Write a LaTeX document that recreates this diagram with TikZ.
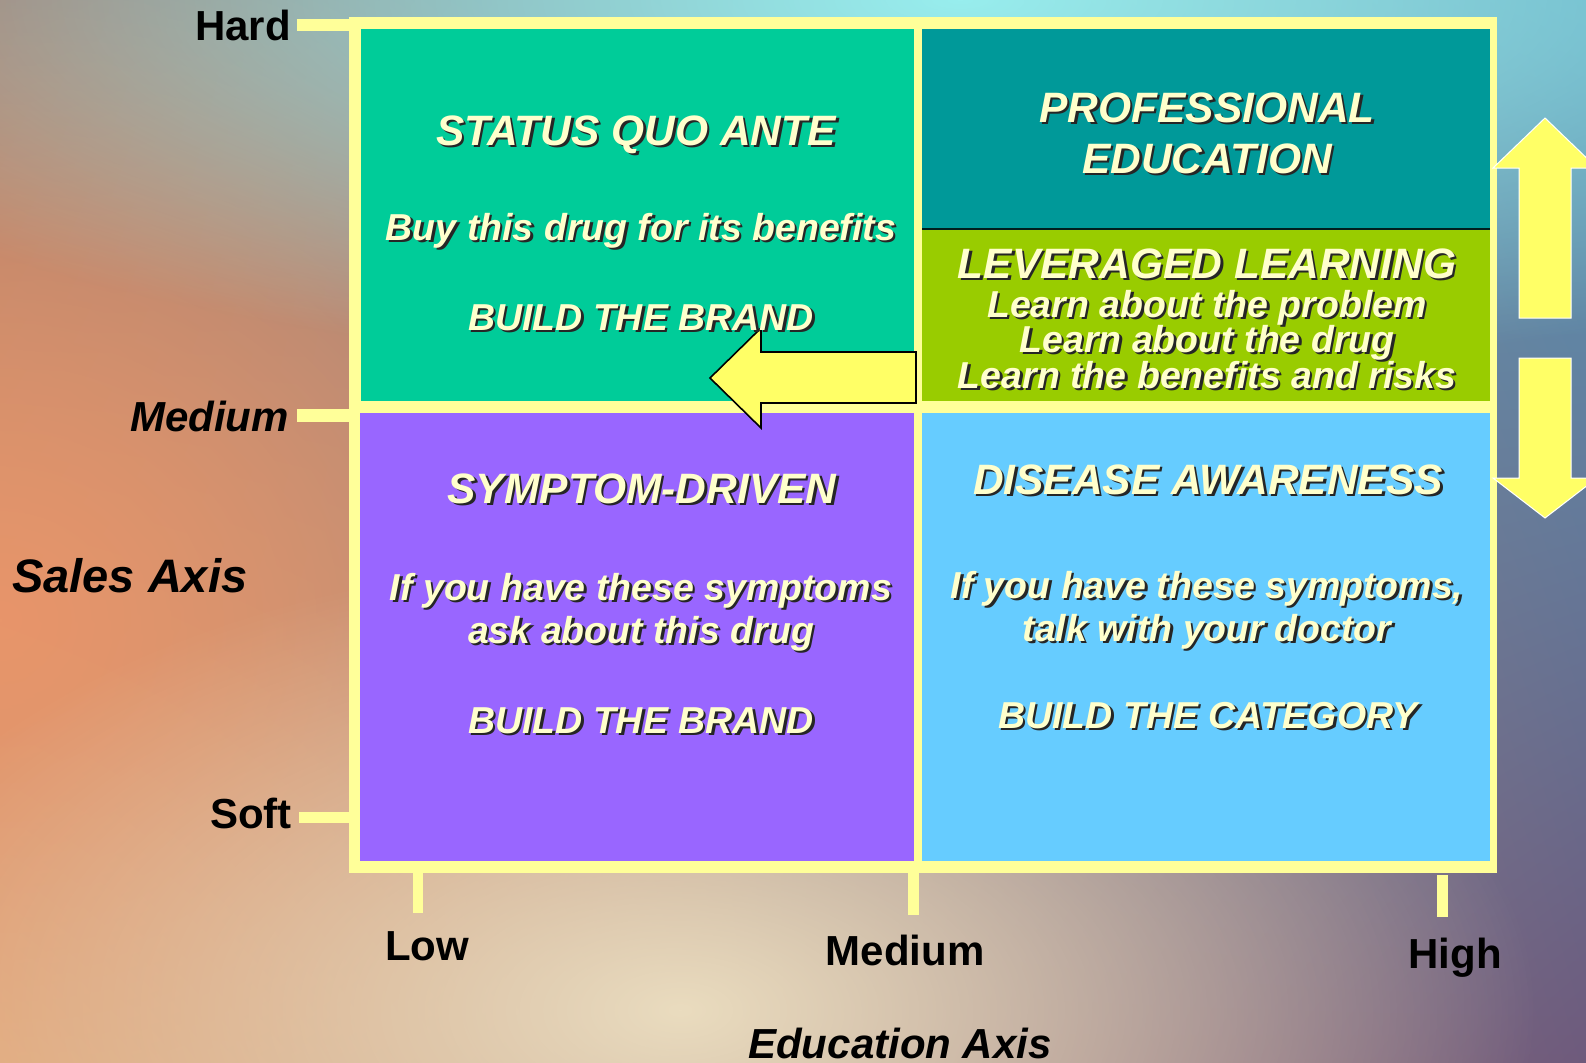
\documentclass[tikz,border=0pt]{standalone}
\usepackage{fontspec}
\setmainfont{Liberation Sans}
\usetikzlibrary{fadings,shadings}
\definecolor{bgUL}{HTML}{987068}
\definecolor{bgUR}{HTML}{5A98B6}
\definecolor{bgLL}{HTML}{DCAE7E}
\definecolor{bgLR}{HTML}{6E5A7C}
\definecolor{blobOrange}{HTML}{E8956A}
\definecolor{blobCyan}{HTML}{98EEEE}
\definecolor{blobBeige}{HTML}{EADCBF}
\definecolor{frameY}{HTML}{FFFF99}
\definecolor{arrowY}{HTML}{FFFF66}
\definecolor{qGreen}{HTML}{00CC99}
\definecolor{qTeal}{HTML}{009999}
\definecolor{qLime}{HTML}{99CC00}
\definecolor{qPurple}{HTML}{9966FF}
\definecolor{qBlue}{HTML}{66CCFF}
\definecolor{txtc}{HTML}{FFFFCC}
\definecolor{shadowc}{HTML}{262626}
\tikzfading[name=blob, inner color=transparent!0, outer color=transparent!100]
\newcommand\shtxt[5]{%
  \node[#2, text=shadowc, xshift=2.5pt, yshift=-2.5pt] (#1s) at (#3,#4) {#5};
  \node[#2, text=txtc] (#1) at (#3,#4) {#5};}
\begin{document}
\begin{tikzpicture}[x=1pt,y=-1pt,
  qtitle/.style={inner sep=0pt, anchor=base, font=\fontsize{42.5}{42.5}\selectfont\bfseries\itshape},
  qbody/.style={inner sep=0pt, anchor=base, font=\fontsize{37.5}{37.5}\selectfont\bfseries\itshape},
  axlab/.style={inner sep=0pt, font=\fontsize{42}{42}\selectfont\bfseries, text=black},
  axital/.style={inner sep=0pt, font=\fontsize{42}{42}\selectfont\bfseries\itshape, text=black},
  tick/.style={fill=frameY},
  blockarrow/.style={fill=arrowY, draw=white, line width=1pt, line join=miter},
  leftarrow/.style={fill=arrowY, draw=black, line width=1.6pt, line join=miter}]
\useasboundingbox (0,0) rectangle (1586,1062);
% background
\shade[upper left=bgUL, upper right=bgUR, lower left=bgLL, lower right=bgLR] (0,0) rectangle (1586,1062);
\begin{scope}
\clip (0,0) rectangle (1586,1062);
\fill[blobOrange, path fading=blob] (0,620) ellipse [x radius=840pt, y radius=760pt];
\fill[blobCyan, path fading=blob] (960,0) ellipse [x radius=1300pt, y radius=380pt];
\fill[blobBeige, path fading=blob] (680,1010) ellipse [x radius=860pt, y radius=460pt];
\end{scope}
% frame
\fill[frameY] (349,17) rectangle (1497,873);
% quadrants
\fill[qGreen] (361,29) rectangle (914,401);
\fill[qTeal] (922,29) rectangle (1490,228);
\fill[qLime] (922,229) rectangle (1490,401);
\draw[color=black!80!qTeal, line width=2pt] (922,228.5) -- (1490,228.5);
\fill[qPurple] (360,413) rectangle (914,861);
\fill[qBlue] (922,413) rectangle (1490,861);
% y ticks
\fill[tick] (297,19) rectangle (352,31);
\fill[tick] (297,409) rectangle (352,422);
\fill[tick] (299,812) rectangle (350,823);
% x ticks
\fill[tick] (413,873) rectangle (423,913);
\fill[tick] (908,873) rectangle (919,915);
\fill[tick] (1437,875) rectangle (1448,917);
% block arrows
\draw[blockarrow] (1545,118) -- (1597,168) -- (1571,168) -- (1571,318) -- (1519,318) -- (1519,168) -- (1493,168) -- cycle;
\draw[blockarrow] (1519,358) -- (1571,358) -- (1571,478) -- (1597,478) -- (1545,518) -- (1493,478) -- (1519,478) -- cycle;
\draw[leftarrow] (710,378) -- (761,328) -- (761,352) -- (916,352) -- (916,403) -- (761,403) -- (761,428) -- cycle;
% axis labels
\node[axlab, anchor=base east] (hard) at (291,41) {Hard};
\node[axital, anchor=base east] (medy) at (289,431) {Medium};
\node[axlab, anchor=base east] (soft) at (292,828) {Soft};
\node[inner sep=0pt, anchor=base west, font=\fontsize{47}{47}\selectfont\bfseries\itshape] (salesaxis) at (12,592) {Sales Axis};
\node[axlab, anchor=base] (low) at (427,960) {Low};
\node[axlab, anchor=base] (medx) at (905,965) {Medium};
\node[axlab, anchor=base] (high) at (1455,968) {High};
\node[axital, anchor=base] (eduaxis) at (900,1058) {Education Axis};
% top-left quadrant
\shtxt{sqa}{qtitle}{636}{145}{STATUS QUO ANTE}
\shtxt{buy}{qbody}{641}{240}{Buy this drug for its benefits}
\shtxt{btb1}{qbody}{641}{330}{BUILD THE BRAND}
% top-right quadrant
\shtxt{prof}{qtitle}{1207}{122}{PROFESSIONAL}
\shtxt{edu}{qtitle}{1207}{173}{EDUCATION}
\shtxt{lev}{qtitle}{1207}{278}{LEVERAGED LEARNING}
\shtxt{lp}{qbody}{1207}{317}{Learn about the problem}
\shtxt{ld}{qbody}{1207}{352}{Learn about the drug}
\shtxt{lb}{qbody}{1207}{388}{Learn the benefits and risks}
% bottom-left quadrant
\shtxt{sd}{qtitle}{642}{503}{SYMPTOM-DRIVEN}
\shtxt{ify1}{qbody}{641}{600}{If you have these symptoms}
\shtxt{ask}{qbody}{641}{643}{ask about this drug}
\shtxt{btb2}{qbody}{641}{733}{BUILD THE BRAND}
% bottom-right quadrant
\shtxt{da}{qtitle}{1208}{494}{DISEASE AWARENESS}
\shtxt{ify2}{qbody}{1207}{598}{If you have these symptoms,}
\shtxt{talk}{qbody}{1207}{641}{talk with your doctor}
\shtxt{btc}{qbody}{1208}{728}{BUILD THE CATEGORY}
\end{tikzpicture}
\end{document}
